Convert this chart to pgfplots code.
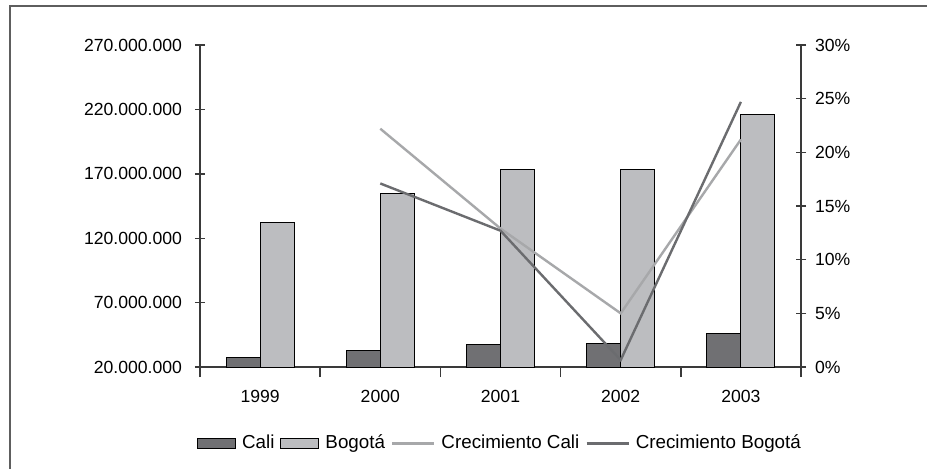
\documentclass[border=0pt]{standalone}
\usepackage{pgfplots}
\pgfplotsset{compat=1.18}
\usepackage{fontspec}
\setmainfont{Liberation Sans}

\definecolor{cali}{HTML}{707073}
\definecolor{bogota}{HTML}{BCBDC0}
\definecolor{ccali}{HTML}{A7A8AA}
\definecolor{cbog}{HTML}{6B6C6F}
\definecolor{axisgray}{HTML}{3A3A3A}
\definecolor{framegray}{HTML}{5E5E5E}

\pgfplotsset{
  base/.style={
    scale only axis, width=300.5pt, height=161pt,
    at={(0,0)}, anchor=south west,
    xmin=-0.5, xmax=4.5,
    axis line style={axisgray, line width=0.7pt},
    tick style={axisgray, line width=0.7pt},
    tick align=center, major tick length=5pt,
    /pgf/number format/assume math mode=true,
    tick label style={font=\fontsize{8.8}{10}\selectfont},
  },
  boxleg/.style={legend image code/.code={\draw[##1] (0pt,-2.4pt) rectangle (19pt,2.4pt);}},
  lineleg/.style={legend image code/.code={\draw[##1] (0pt,0pt) -- (21pt,0pt);}},
}

\begin{document}
\begin{tikzpicture}[font=\fontsize{9.4}{11}\selectfont]
\fill[white] (-100pt,-50.5pt) rectangle (363.5pt,183.5pt);
\path[use as bounding box] (-100pt,-50.5pt) rectangle (363.5pt,183.5pt);
\draw[framegray, line width=1.1pt] (-95pt,-70pt) -- (-95pt,180.5pt) -- (380pt,180.5pt);

% barras
\begin{axis}[base,
  axis x line*=bottom, axis y line*=left,
  ymin=20000000, ymax=270000000,
  ytick={20000000,70000000,120000000,170000000,220000000,270000000},
  scaled y ticks=false,
  yticklabel style={xshift=-3pt, /pgf/number format/.cd, fixed, 1000 sep={.}},
  xtick={-0.5,0.5,1.5,2.5,3.5,4.5},
  xticklabels={1999,2000,2001,2002,2003,{}},
  xticklabel style={xshift=30.05pt, yshift=-3pt},
  ybar=0pt, bar width=17pt,
]
\addplot[fill=cali, draw=black, line width=0.5pt]
coordinates {(0,27200000) (1,32700000) (2,37600000) (3,38400000) (4,46200000)};
\addplot[fill=bogota, draw=black, line width=0.5pt]
coordinates {(0,132300000) (1,154600000) (2,173500000) (3,173500000) (4,216200000)};
\end{axis}

% crecimiento (%)
\begin{axis}[base,
  axis x line=none, axis y line*=right,
  ymin=0, ymax=30,
  ytick={0,5,...,30},
  yticklabel={\pgfmathprintnumber{\tick}\%},
  yticklabel style={xshift=1pt},
  legend columns=-1,
  legend style={at={(0.5,-0.2376)}, anchor=center, draw=none, fill=none,
    font=\fontsize{9.4}{11}\selectfont,
    nodes={inner sep=1.5pt},
    /tikz/every odd column/.append style={column sep=1.5pt},
    /tikz/every even column/.append style={column sep=1.5pt}},
]
\addlegendimage{boxleg, fill=cali, draw=black, line width=0.5pt}
\addlegendentry{Cali}
\addlegendimage{boxleg, fill=bogota, draw=black, line width=0.5pt}
\addlegendentry{Bogotá}
\addplot[lineleg, ccali, line width=1.2pt]
coordinates {(1,22.2) (2,12.9) (3,5.0) (4,21.2)};
\addlegendentry{Crecimiento Cali}
\addplot[lineleg, cbog, line width=1.2pt]
coordinates {(1,17.1) (2,12.7) (3,0.65) (4,24.7)};
\addlegendentry{Crecimiento Bogotá}
\end{axis}
\end{tikzpicture}
\end{document}
